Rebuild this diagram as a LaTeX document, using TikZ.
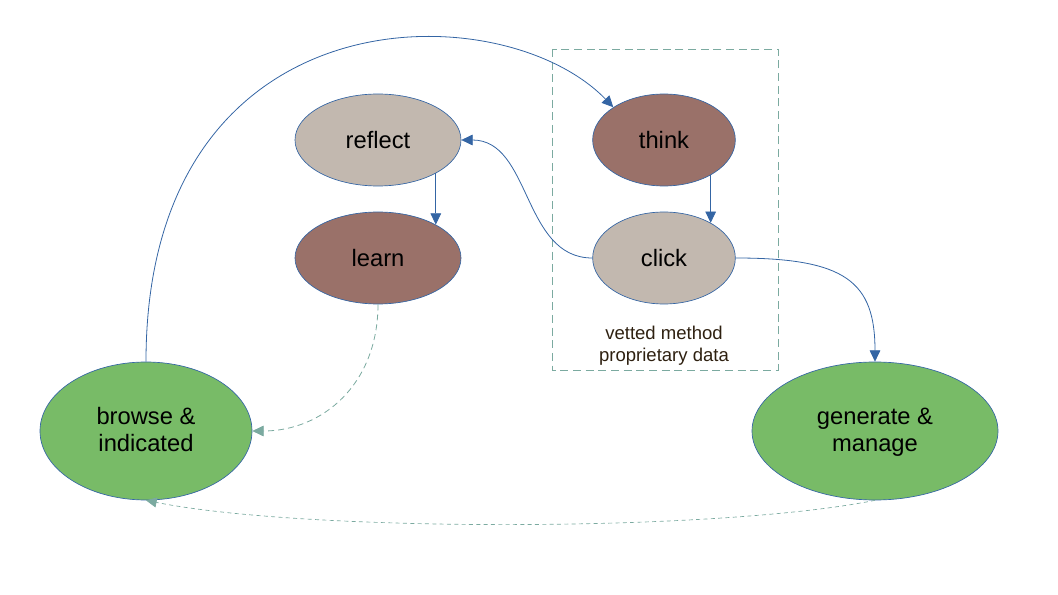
\documentclass[tikz,border=0pt]{standalone}
\usepackage{fontspec}
\setmainfont{Liberation Sans}
\usetikzlibrary{arrows.meta, shapes.geometric}
\definecolor{PaleColor}{HTML}{C2B8AF}
\definecolor{DarkColor}{HTML}{9A7169}
\definecolor{GreenColor}{HTML}{78BB67}
\definecolor{EdgeColor}{HTML}{3465A4}
\definecolor{DashColor}{HTML}{7BAAA0}
\definecolor{NoteColor}{HTML}{2E2010}
\tikzset{
  bubble/.style={ellipse, draw=EdgeColor, line width=0.5pt, inner sep=0pt,
    align=center, font=\fontsize{17.8}{20.5}\selectfont},
  pale/.style={bubble, fill=PaleColor, minimum width=124.5pt, minimum height=69pt},
  dark/.style={bubble, fill=DarkColor, minimum width=124.5pt, minimum height=69pt},
  smallpale/.style={bubble, fill=PaleColor, minimum width=107pt, minimum height=69pt},
  smalldark/.style={bubble, fill=DarkColor, minimum width=107pt, minimum height=69pt},
  big/.style={bubble, fill=GreenColor, minimum height=103.5pt},
  flow/.style={-{Triangle[length=8.5pt, width=8pt]}, draw=EdgeColor, line width=0.6pt},
  back/.style={-{Triangle[length=8.5pt, width=8pt]}, draw=DashColor, line width=0.6pt,
    dash pattern=on 4.5pt off 3pt},
  faint/.style={-{Triangle[length=8pt, width=7.5pt]}, draw=DashColor, line width=0.5pt,
    dash pattern=on 3pt off 2.5pt}
}

\begin{document}
\begin{tikzpicture}[x=0.75pt, y=-0.75pt]
  \useasboundingbox (0,0) rectangle (1058,595);

  % proprietary part
  \draw[DashColor, line width=0.6pt, dash pattern=on 6pt off 3.5pt] (552,49) rectangle (778,370);
  \node[align=center, text=NoteColor, font=\fontsize{13.9}{16.5}\selectfont] (note) at (664,346)
    {vetted method\\proprietary data};

  % bubbles
  \node[pale] (reflect) at (378,140) {reflect};
  \node[dark] (learn) at (378,258) {learn};
  \node[smalldark] (think) at (664,140) {think};
  \node[smallpale] (click) at (664,258) {click};
  \node[big, minimum width=159pt, text depth=2pt] (browse) at (146,431) {browse \&\\indicated};
  \node[big, minimum width=184.5pt, text depth=2pt] (generate) at (875,431) {generate \&\\manage};

  % main loop
  \draw[flow] (browse.north) .. controls +(0,-372) and +(-112,-116) .. (think.north west);
  \draw[flow] (think.-37) -- (click.37);
  \draw[flow] (click.west) .. controls +(-70,0) and +(70,0) .. (reflect.east);
  \draw[flow] (reflect.-30) -- (learn.30);
  \draw[flow] (click.east) .. controls +(110,0) and +(0,-80) .. (generate.north);

  % feedback
  \draw[back] (learn.south) .. controls +(0,80) and +(70,0) .. (browse.east);
  \draw[faint] (generate.south) .. controls +(-160,32) and +(160,32) .. (browse.south);
\end{tikzpicture}
\end{document}
